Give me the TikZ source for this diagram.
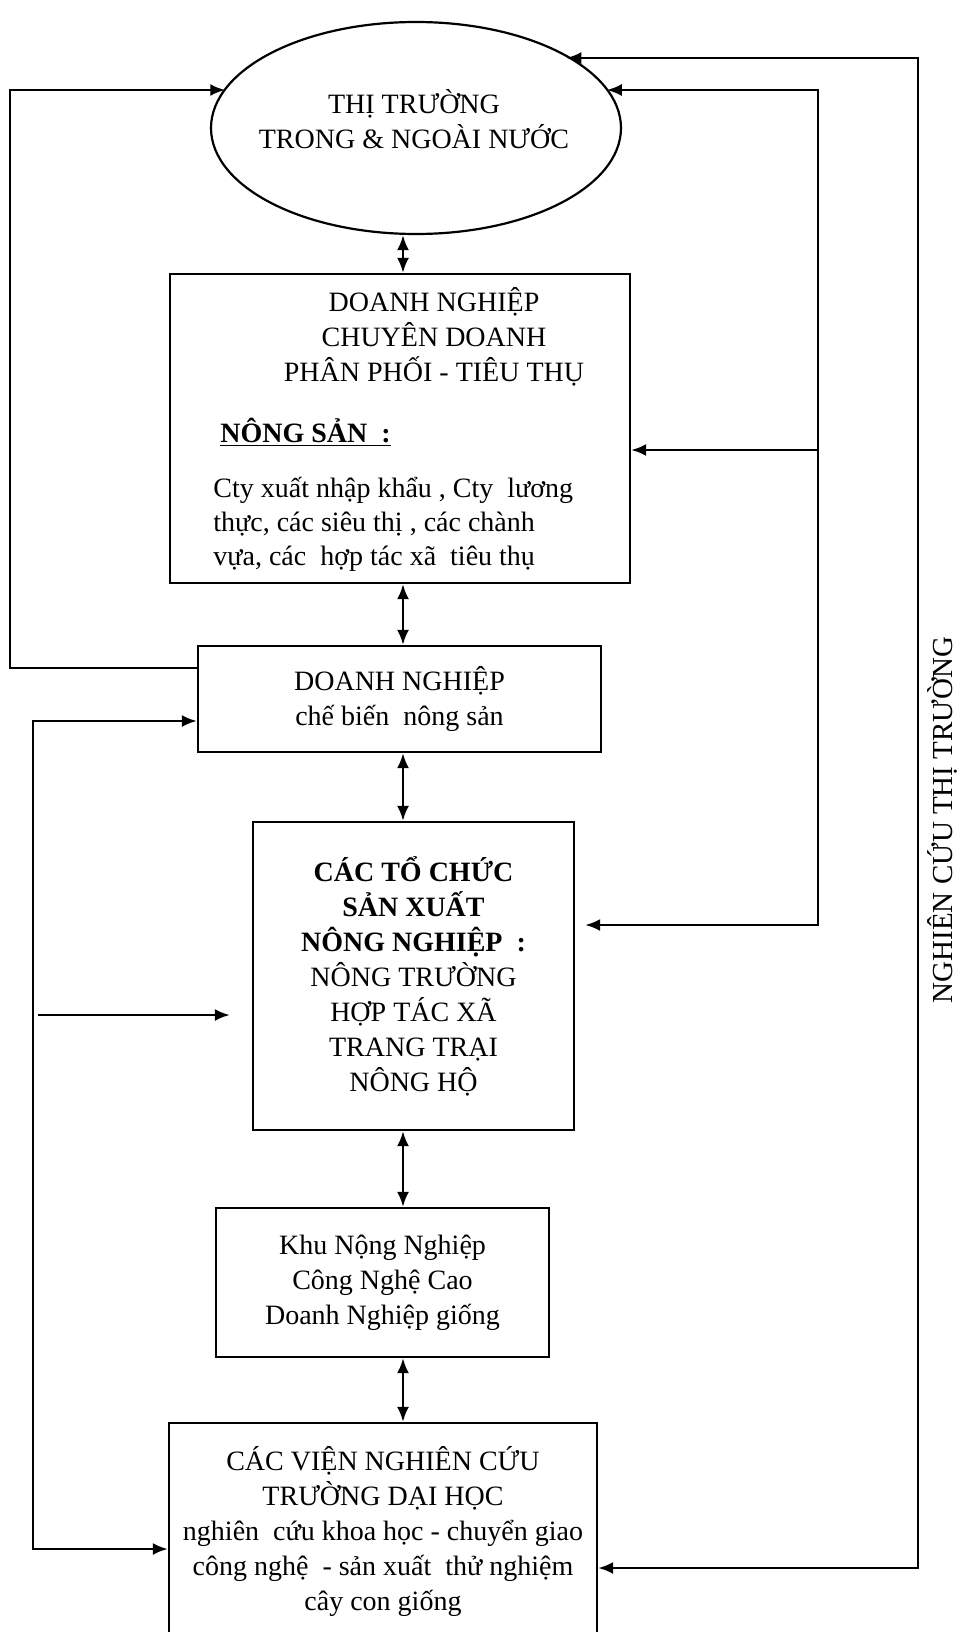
\documentclass[tikz,border=0pt]{standalone}
\usepackage{fontspec}
\setmainfont{Liberation Serif}
\usetikzlibrary{arrows.meta, shapes.geometric}

\begin{document}
\begin{tikzpicture}[x=0.5pt, y=-0.5pt, >={Latex[length=7.5pt, width=6pt]},
				   box/.style={draw, line width=1.1pt, inner sep=0pt},
				   txt/.style={font=\fontsize{14}{17.5}\selectfont, align=center},
				   ln/.style={line width=1.3pt}]
\useasboundingbox (0,0) rectangle (961,1632);
\clip (0,0) rectangle (961,1632);

\node[ellipse, box, minimum width=205pt, minimum height=106pt] (thitruong) at (416,128) {};
\node[txt, inner sep=0pt] (thitruong-t) at (414,119) {THỊ TRƯỜNG\\TRONG \& NGOÀI NƯỚC};

\node[box, minimum width=230pt, minimum height=154.5pt] (phanphoi) at (400,428.5) {};
\node[txt, anchor=base, inner sep=0pt] (phanphoi-a) at (434,381) {DOANH NGHIỆP\\CHUYÊN DOANH\\PHÂN PHỐI - TIÊU THỤ};
\node[txt, anchor=base west, inner sep=0pt] (phanphoi-b) at (220,442) {\underline{\textbf{NÔNG SẢN\ \ :}}};
\node[txt, font=\fontsize{14}{17}\selectfont, align=left, anchor=base west, inner sep=0pt] (phanphoi-c) at (213,565) {Cty xuất nhập khẩu , Cty\ \ lương\\thực, các siêu thị , các chành\\vựa, các\ \ hợp tác xã\ \ tiêu thụ};

\node[box, txt, minimum width=201.5pt, minimum height=53pt] (chebien) at (399.5,699) {DOANH NGHIỆP\\chế biến\ \ nông sản};
\node[box, txt, minimum width=160.5pt, minimum height=154pt] (sanxuat) at (413.5,976) {\textbf{CÁC TỔ CHỨC}\\\textbf{SẢN XUẤT}\\\textbf{NÔNG NGHIỆP\ \ :}\\NÔNG TRƯỜNG\\HỢP TÁC XÃ\\TRANG TRẠI\\NÔNG HỘ};
\node[box, txt, minimum width=166.5pt, minimum height=74.5pt] (congnghe) at (382.5,1282.5) {Khu Nộng Nghiệp\\Công Nghệ Cao\\Doanh Nghiệp giống};
\node[box, txt, minimum width=214pt, minimum height=108.5pt] (vien) at (383,1531.5) {CÁC VIỆN NGHIÊN CỨU\\TRƯỜNG DẠI HỌC\\nghiên\ \ cứu khoa học - chuyển giao\\công nghệ\ \ - sản xuất\ \ thử nghiệm\\cây con giống};

\node[txt, font=\fontsize{14.5}{17.5}\selectfont, rotate=90] (nghiencuu) at (942,820) {NGHIÊN CỨU THỊ TRƯỜNG};

\coordinate (col) at (403,0);
\draw[ln, <->] (thitruong.south -| col) -- (phanphoi.north -| col);
\draw[ln, <->] (phanphoi.south -| col) -- (chebien.north -| col);
\draw[ln, <->] (chebien.south -| col) -- (sanxuat.north -| col);
\draw[ln, <->] (sanxuat.south -| col) -- (congnghe.north -| col);
\draw[ln, <->] (congnghe.south -| col) -- (vien.north -| col);

\coordinate (lo1) at (10,90);
\coordinate (lo2) at (10,668);
\draw[ln, ->] (chebien.west |- lo2) -- (lo2) -- (lo1) -- (lo1 -| thitruong.168);

\coordinate (li1) at (33,721);
\coordinate (li2) at (33,1549);
\draw[ln, <->] (chebien.west |- li1) -- (li1) -- (li2) -- (vien.west |- li2);

\coordinate (fr) at (38,1015);
\draw[ln, ->] (fr) -- ([xshift=-11pt]sanxuat.west |- fr);

\coordinate (ro1) at (918,58);
\coordinate (ro2) at (918,1568);
\draw[ln, <->] (ro1 -| thitruong.26) -- (ro1) -- (ro2) -- (vien.east |- ro2);

\coordinate (ri1) at (818,90);
\coordinate (ri2) at (818,925);
\coordinate (ri3) at (818,450);
\draw[ln, <->] (ri1 -| thitruong.12) -- (ri1) -- (ri2) -- ([xshift=5pt]sanxuat.east |- ri2);
\draw[ln, ->] (ri3) -- (phanphoi.east |- ri3);
\end{tikzpicture}
\end{document}
